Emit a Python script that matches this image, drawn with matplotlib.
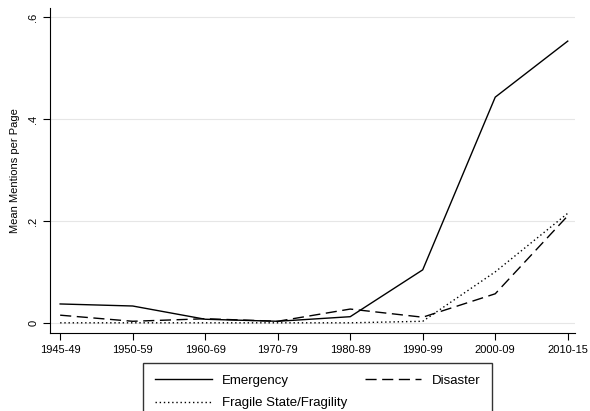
import matplotlib
matplotlib.use("Agg")
import matplotlib.pyplot as plt

plt.rcParams['font.family'] = ['Liberation Sans Narrow', 'Liberation Sans', 'DejaVu Sans']

periods = ['1945-49', '1950-59', '1960-69', '1970-79', '1980-89', '1990-99', '2000-09', '2010-15']
emergency = [0.037, 0.033, 0.007, 0.003, 0.012, 0.104, 0.443, 0.553]
disaster = [0.015, 0.003, 0.008, 0.003, 0.027, 0.011, 0.057, 0.210]
fragile = [0.0, 0.0, 0.0, 0.0, 0.0, 0.003, 0.100, 0.215]
yticks = [0, 0.2, 0.4, 0.6]
ylabels = ['0', '.2', '.4', '.6']

fig = plt.figure(figsize=(5.9, 4.11), dpi=100)
ax = fig.add_axes([50/590, 1 - 333/411, 525/590, 325/411])

x = range(len(periods))
l1, = ax.plot(x, emergency, color='black', lw=1.0, ls='-', label='Emergency')
l2, = ax.plot(x, disaster, color='black', lw=1.0, ls=(0, (8, 4)), label='Disaster')
l3, = ax.plot(x, fragile, color='black', lw=1.0, ls=(0, (1, 2)), label='Fragile State/Fragility')

ax.set_xlim(-0.14, 7.1)
ax.set_ylim(-0.02, 0.618)
ax.set_xticks(list(x))
ax.set_xticklabels(periods, fontsize=8)
ax.set_yticks(yticks)
ax.set_yticklabels(ylabels, fontsize=8, rotation=90, va='center')
ax.set_ylabel('Mean Mentions per Page', fontsize=8, labelpad=6)
ax.grid(axis='y', color='#e6e6e6', lw=0.8)
ax.set_axisbelow(True)
for s in ['top', 'right']:
    ax.spines[s].set_visible(False)
ax.tick_params(length=5, width=0.8)

# Stata-style legend: row 1 Emergency / Disaster, row 2 Fragile
fig.legend([l1, l3, l2], ['Emergency', 'Fragile State/Fragility', 'Disaster'],
           loc='upper left', bbox_to_anchor=(143/590, 1 - 363/411), ncol=2,
           fontsize=9.5, frameon=True, fancybox=False, edgecolor='black',
           handlelength=4.3, columnspacing=1.3, borderpad=0.9, labelspacing=0.75,
           borderaxespad=0)

fig.savefig('out.png', dpi=100)
